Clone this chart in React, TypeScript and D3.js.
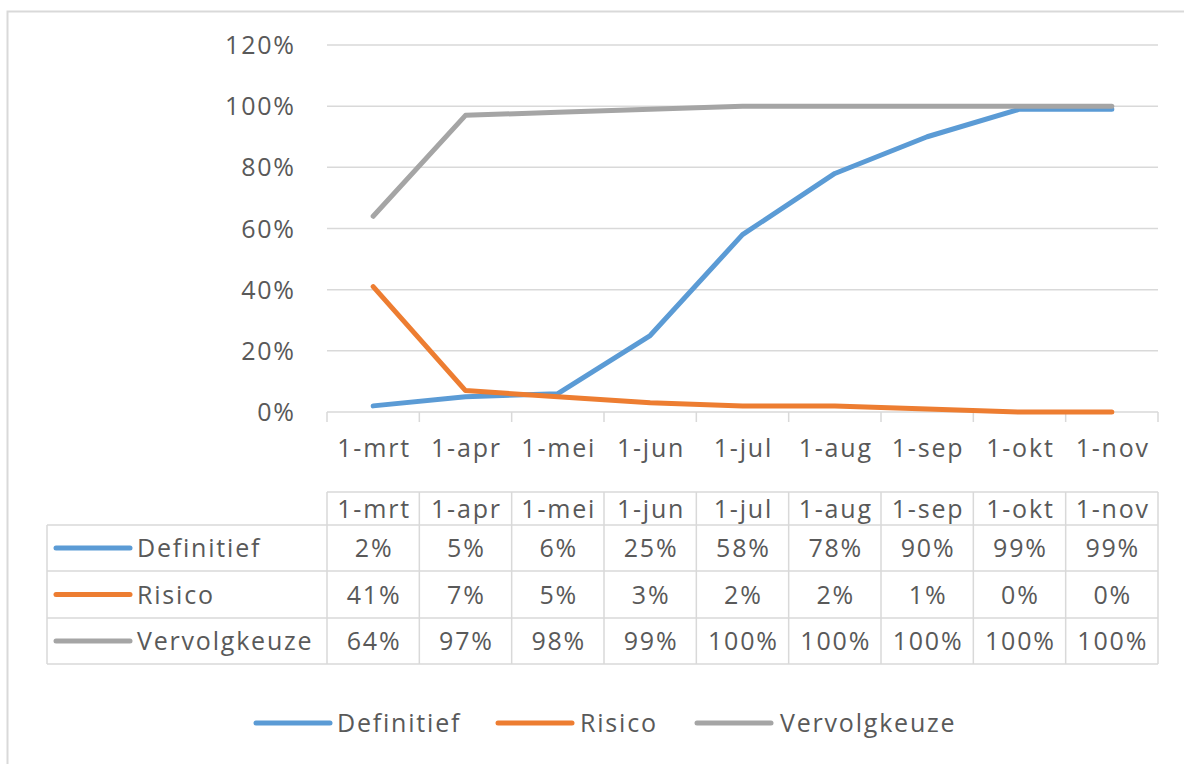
import React from 'react';
import * as d3 from 'd3';

const categories = ['1-mrt', '1-apr', '1-mei', '1-jun', '1-jul', '1-aug', '1-sep', '1-okt', '1-nov'];
const definitief = [2, 5, 6, 25, 58, 78, 90, 99, 99];
const risico = [41, 7, 5, 3, 2, 2, 1, 0, 0];
const vervolgkeuze = [64, 97, 98, 99, 100, 100, 100, 100, 100];
const yTicks = [0, 20, 40, 60, 80, 100, 120];

const series = [
  { name: 'Definitief', values: definitief, color: '#5B9BD5' },
  { name: 'Risico', values: risico, color: '#ED7D31' },
  { name: 'Vervolgkeuze', values: vervolgkeuze, color: '#A5A5A5' },
];

const W = 1184;
const H = 764;
const textColor = '#595959';
const gridColor = '#D9D9D9';
const font = '"Open Sans", sans-serif';
const fs = 25;
const ls = 1.8;

const App: React.FC = () => {
  const plotLeft = 327;
  const plotRight = 1158;
  const x = d3.scaleBand<string>().domain(categories).range([plotLeft, plotRight]);
  const y = d3.scaleLinear().domain([0, 120]).range([412, 45]);
  const cx = (i: number) => (x(categories[i]) || 0) + x.bandwidth() / 2;

  const line = d3.line<number>()
    .x((_, i) => cx(i))
    .y(d => y(d));

  // data table rows
  const tableLeft = 47;
  const headerTop = 492;
  const rowEdges = [525, 571, 618, 664];
  const edges = categories.map(c => x(c) || 0).concat(plotRight);

  // legend placement
  const legend = [
    { lx: 256, tx: 337 },
    { lx: 498, tx: 580 },
    { lx: 697, tx: 780 },
  ];

  const txt = { fontSize: fs, fill: textColor, letterSpacing: ls };

  return (
    <div style={{ position: 'absolute', left: 0, top: 0 }}>
      <svg width={W} height={H} style={{ display: 'block', fontFamily: font }}>
        <rect x={0} y={0} width={W} height={H} fill="#fff" />
        <rect x={7.5} y={11.5} width={W + 20} height={H + 20} fill="none" stroke={gridColor} strokeWidth={2} />

        {/* gridlines */}
        {yTicks.map(t => (
          <g key={t}>
            <line x1={plotLeft} x2={plotRight} y1={y(t)} y2={y(t)} stroke={gridColor} strokeWidth={1.5} />
            <text x={294 + ls} y={y(t)} dy="0.36em" textAnchor="end" {...txt}>{t}%</text>
          </g>
        ))}

        {/* x axis ticks + labels */}
        {edges.map((e, i) => (
          <line key={i} x1={e} x2={e} y1={y(0)} y2={y(0) + 10} stroke={gridColor} strokeWidth={1.5} />
        ))}
        {categories.map((c, i) => (
          <text key={c} x={cx(i) + ls / 2} y={448} dy="0.36em" textAnchor="middle" {...txt}>{c}</text>
        ))}

        {/* series lines */}
        {series.map(s => (
          <path key={s.name} d={line(s.values) || ''} fill="none" stroke={s.color} strokeWidth={5} strokeLinecap="round" strokeLinejoin="round" />
        ))}

        {/* data table */}
        <g stroke={gridColor} strokeWidth={1.5}>
          <line x1={plotLeft} x2={plotRight} y1={headerTop} y2={headerTop} />
          {rowEdges.map(r => (
            <line key={r} x1={tableLeft} x2={plotRight} y1={r} y2={r} />
          ))}
          {edges.map((e, i) => (
            <line key={i} x1={e} x2={e} y1={headerTop} y2={rowEdges[3]} />
          ))}
          <line x1={tableLeft} x2={tableLeft} y1={rowEdges[0]} y2={rowEdges[3]} />
        </g>
        {categories.map((c, i) => (
          <text key={c} x={cx(i) + ls / 2} y={(headerTop + rowEdges[0]) / 2} dy="0.36em" textAnchor="middle" {...txt}>{c}</text>
        ))}
        {series.map((s, r) => {
          const cy = (rowEdges[r] + rowEdges[r + 1]) / 2;
          return (
            <g key={s.name}>
              <line x1={56} x2={130} y1={cy} y2={cy} stroke={s.color} strokeWidth={5} strokeLinecap="round" />
              <text x={137} y={cy} dy="0.36em" {...txt}>{s.name}</text>
              {s.values.map((v, i) => (
                <text key={i} x={cx(i) + ls / 2} y={cy} dy="0.36em" textAnchor="middle" {...txt}>{v}%</text>
              ))}
            </g>
          );
        })}

        {/* legend */}
        {series.map((s, i) => (
          <g key={s.name}>
            <line x1={legend[i].lx} x2={legend[i].lx + 74} y1={723} y2={723} stroke={s.color} strokeWidth={5} strokeLinecap="round" />
            <text x={legend[i].tx} y={723} dy="0.36em" {...txt}>{s.name}</text>
          </g>
        ))}
      </svg>
    </div>
  );
};

export default App;
